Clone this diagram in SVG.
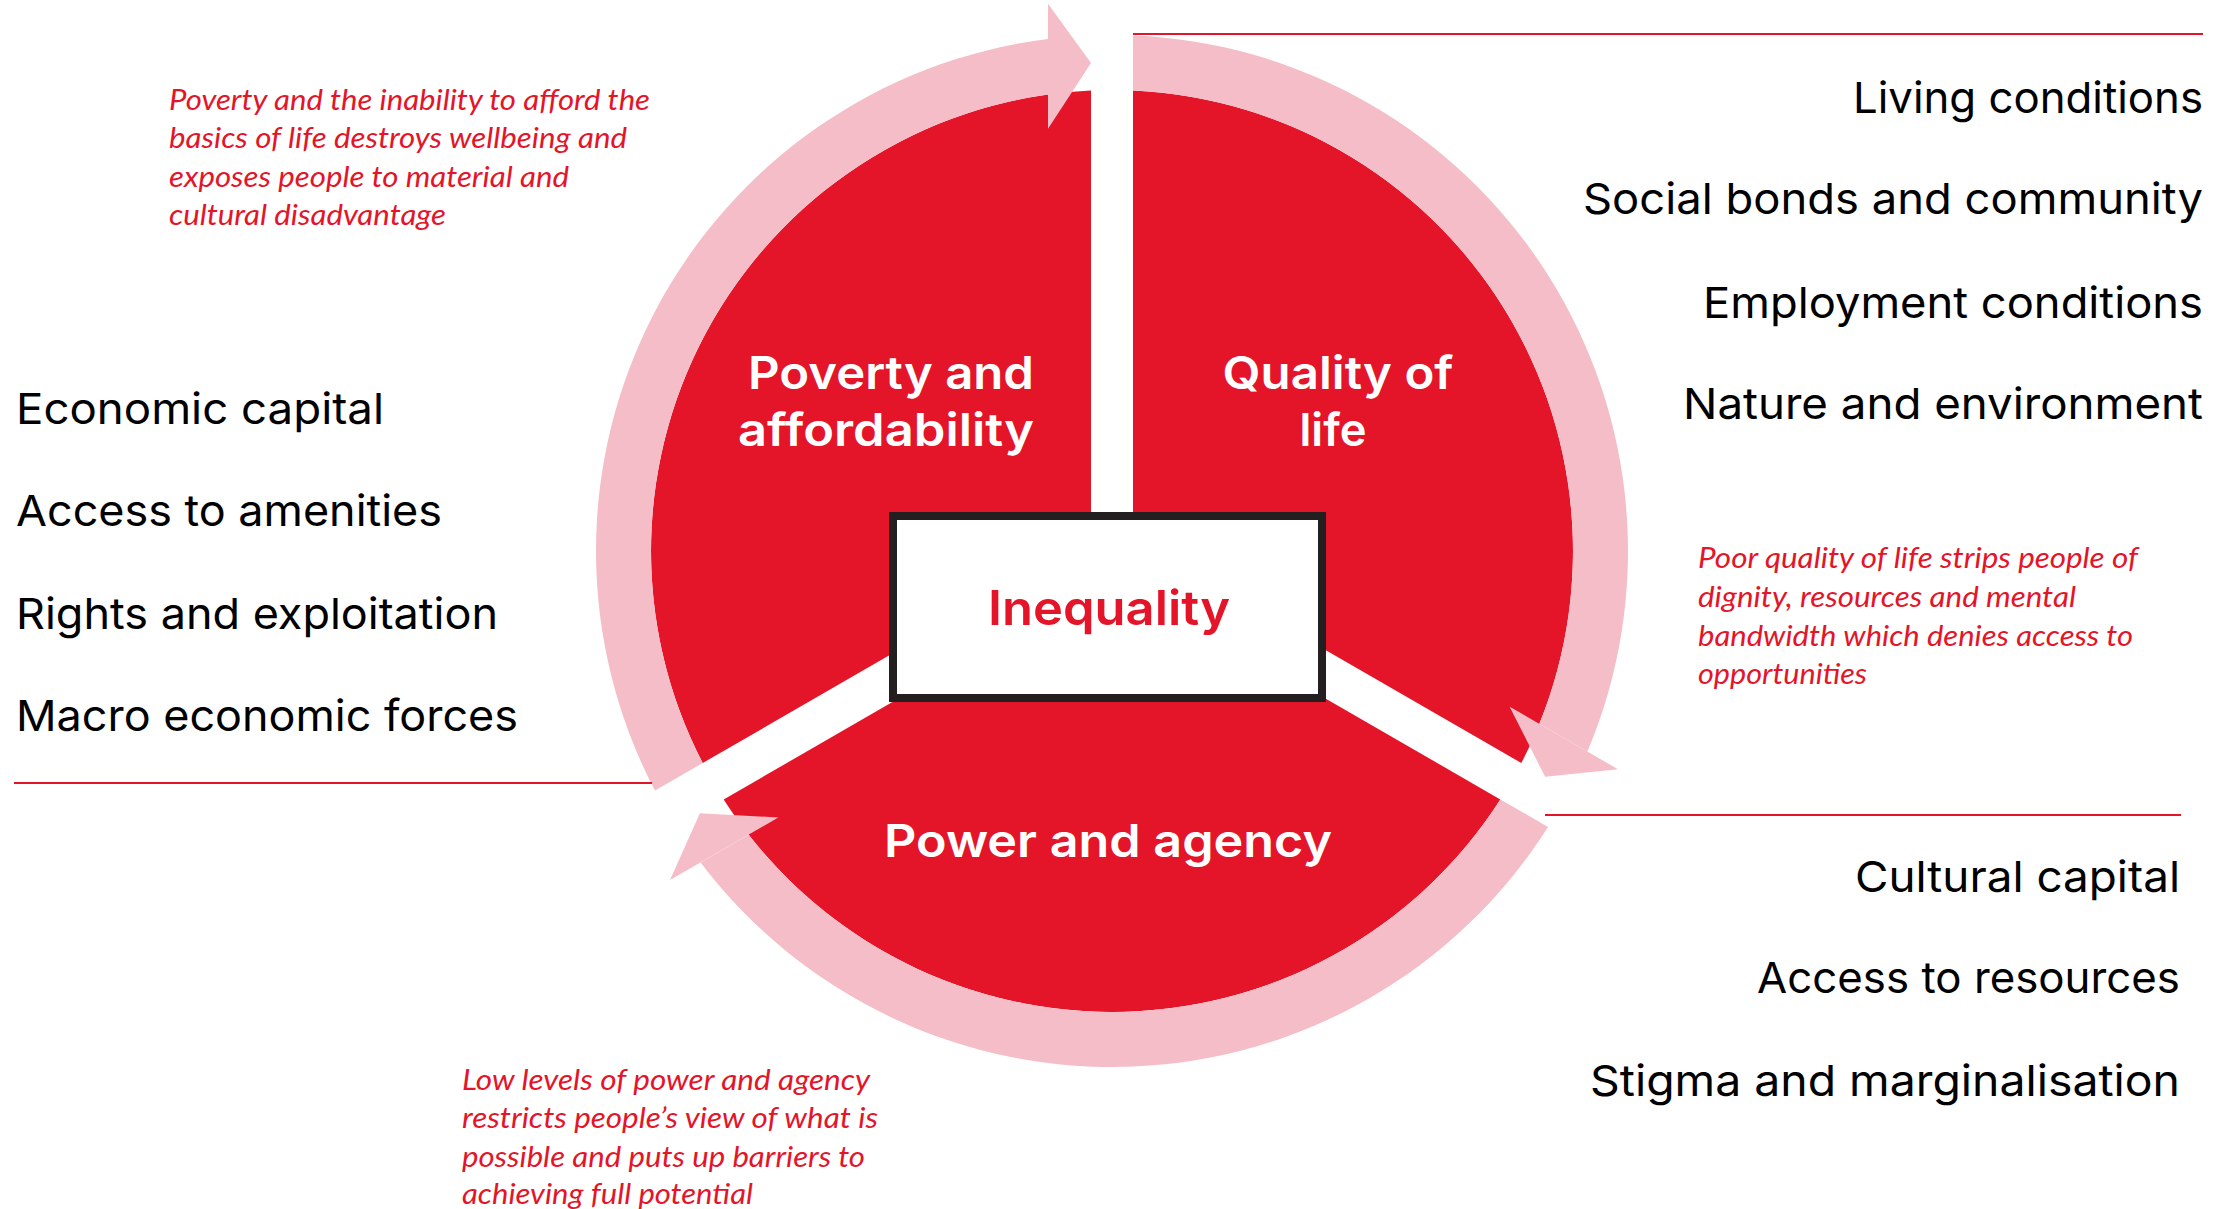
<svg xmlns="http://www.w3.org/2000/svg" xmlns:xlink="http://www.w3.org/1999/xlink" width="2234" height="1209" viewBox="0 0 2234 1209">
<style>
.sector{fill:#E41429}
.arrow{fill:#F4BDC7}
.lbl{font-family:Inter,"Noto Sans",sans-serif;font-weight:600;font-size:45px;fill:#fff}
.center{font-family:Inter,"Noto Sans",sans-serif;font-weight:600;font-size:48px;fill:#E41429}
.item{font-family:Inter,"Noto Sans",sans-serif;font-weight:400;font-size:43px;fill:#000}
.note{font-family:Lato,"Liberation Sans",sans-serif;font-style:italic;font-size:29px;fill:#E41429}
.rule{stroke:#E41429;stroke-width:2;fill:none}
.box{fill:#fff;stroke:#231F20;stroke-width:8}
</style>
<defs>
<path id="sec" d="M -21 -12.12 L -21 -460.52 A 461 461 0 0 0 -409.3 212.07 Z"/>
<g id="arw">
<path d="M -457 239.6 A 516 516 0 0 1 -64 -512 L -64 -456.5 A 461 461 0 0 0 -409.3 212.1 Z"/>
<path d="M -64 -547.3 L -21 -488 L -64 -422.2 Z"/>
</g>
</defs>
<rect width="2234" height="1209" fill="#fff"/>

<g id="node-poverty">
<use xlink:href="#sec" class="sector" transform="translate(1112,551)"/>
<text class="lbl" x="891" y="389" text-anchor="middle" textLength="286" lengthAdjust="spacingAndGlyphs">Poverty and</text>
<text class="lbl" x="886" y="446" text-anchor="middle" textLength="296" lengthAdjust="spacingAndGlyphs">affordability</text>
</g>
<g id="node-quality">
<use xlink:href="#sec" class="sector" transform="translate(1112,551) rotate(120)"/>
<text class="lbl" x="1338" y="389" text-anchor="middle" textLength="231" lengthAdjust="spacingAndGlyphs">Quality of</text>
<text class="lbl" x="1333" y="446" text-anchor="middle" textLength="67" lengthAdjust="spacingAndGlyphs">life</text>
</g>
<g id="node-power">
<use xlink:href="#sec" class="sector" transform="translate(1112,551) rotate(240)"/>
<text class="lbl" x="1108" y="857" text-anchor="middle" textLength="448" lengthAdjust="spacingAndGlyphs">Power and agency</text>
</g>

<g id="connectors">
<use xlink:href="#arw" class="arrow" transform="translate(1112,551)"/>
<use xlink:href="#arw" class="arrow" transform="translate(1112,551) rotate(120)"/>
<use xlink:href="#arw" class="arrow" transform="translate(1112,551) rotate(240)"/>
</g>

<g id="node-inequality">
<rect class="box" x="893" y="516" width="429" height="182"/>
<text class="center" x="1109" y="625" text-anchor="middle" textLength="242" lengthAdjust="spacingAndGlyphs">Inequality</text>
</g>

<g id="rules">
<line class="rule" x1="1133" y1="34" x2="2203" y2="34"/>
<line class="rule" x1="14" y1="783" x2="652" y2="783"/>
<line class="rule" x1="1545" y1="815" x2="2181" y2="815"/>
</g>

<g id="list-quality">
<text class="item" x="2203" y="113" text-anchor="end" textLength="350" lengthAdjust="spacingAndGlyphs">Living conditions</text>
<text class="item" x="2203" y="214" text-anchor="end" textLength="620" lengthAdjust="spacingAndGlyphs">Social bonds and community</text>
<text class="item" x="2203" y="318" text-anchor="end" textLength="500" lengthAdjust="spacingAndGlyphs">Employment conditions</text>
<text class="item" x="2203" y="419" text-anchor="end" textLength="520" lengthAdjust="spacingAndGlyphs">Nature and environment</text>
</g>
<g id="list-poverty">
<text class="item" x="16" y="424" textLength="368" lengthAdjust="spacingAndGlyphs">Economic capital</text>
<text class="item" x="16" y="526" textLength="426" lengthAdjust="spacingAndGlyphs">Access to amenities</text>
<text class="item" x="16" y="629" textLength="482" lengthAdjust="spacingAndGlyphs">Rights and exploitation</text>
<text class="item" x="16" y="731" textLength="502" lengthAdjust="spacingAndGlyphs">Macro economic forces</text>
</g>
<g id="list-power">
<text class="item" x="2180" y="892" text-anchor="end" textLength="325" lengthAdjust="spacingAndGlyphs">Cultural capital</text>
<text class="item" x="2180" y="993" text-anchor="end" textLength="423" lengthAdjust="spacingAndGlyphs">Access to resources</text>
<text class="item" x="2180" y="1096" text-anchor="end" textLength="590" lengthAdjust="spacingAndGlyphs">Stigma and marginalisation</text>
</g>

<g id="note-poverty">
<text class="note" x="169" y="110" textLength="481" lengthAdjust="spacingAndGlyphs">Poverty and the inability to afford the</text>
<text class="note" x="169" y="148" textLength="458" lengthAdjust="spacingAndGlyphs">basics of life destroys wellbeing and</text>
<text class="note" x="169" y="187" textLength="400" lengthAdjust="spacingAndGlyphs">exposes people to material and</text>
<text class="note" x="169" y="225" textLength="277" lengthAdjust="spacingAndGlyphs">cultural disadvantage</text>
</g>
<g id="note-quality">
<text class="note" x="1698" y="568" textLength="440" lengthAdjust="spacingAndGlyphs">Poor quality of life strips people of</text>
<text class="note" x="1698" y="607" textLength="378" lengthAdjust="spacingAndGlyphs">dignity, resources and mental</text>
<text class="note" x="1698" y="646" textLength="435" lengthAdjust="spacingAndGlyphs">bandwidth which denies access to</text>
<text class="note" x="1698" y="684" textLength="169" lengthAdjust="spacingAndGlyphs">opportunities</text>
</g>
<g id="note-power">
<text class="note" x="462" y="1090" textLength="408" lengthAdjust="spacingAndGlyphs">Low levels of power and agency</text>
<text class="note" x="462" y="1128" textLength="416" lengthAdjust="spacingAndGlyphs">restricts people’s view of what is</text>
<text class="note" x="462" y="1167" textLength="403" lengthAdjust="spacingAndGlyphs">possible and puts up barriers to</text>
<text class="note" x="462" y="1204" textLength="291" lengthAdjust="spacingAndGlyphs">achieving full potential</text>
</g>
</svg>
